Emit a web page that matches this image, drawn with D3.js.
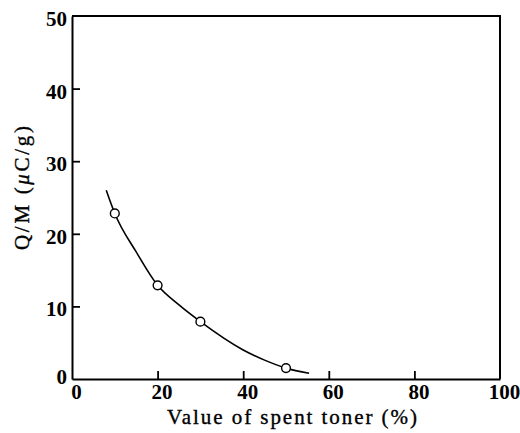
<!DOCTYPE html>
<html>
<head>
<meta charset="utf-8">
<script src="https://cdn.jsdelivr.net/npm/d3@7"></script>
<style>
  html, body { margin: 0; padding: 0; background: #fff; }
  svg { display: block; }
  text { font-family: "Liberation Serif", "DejaVu Serif", serif; fill: #000; }
</style>
</head>
<body>
<svg id="chart" width="520" height="433"></svg>
<script>
// Measured samples of charge-to-mass ratio versus spent toner content
const spentPct = [10, 20, 30, 50];
const chargeQM = [22.8, 12.9, 7.9, 1.5];

// Fitted trend line traced across the measured range
const fitPct = [8, 10, 15, 20, 25, 30, 40, 45, 50, 55.4];
const fitQM  = [26.0, 22.8, 17.5, 12.9, 10.2, 7.9, 4.0, 2.6, 1.5, 0.8];

// Axis ticks
const xTicks = [0, 20, 40, 60, 80, 100];
const yTicks = [0, 10, 20, 30, 40, 50];

const xTitle = "Value of spent toner (%)";

const svg = d3.select("#chart");
const plotL = 72, plotR = 500, plotT = 16, plotB = 379;

const x = d3.scaleLinear().domain([0, 100]).range([plotL, plotR]);
const y = d3.scaleLinear().domain([0, 50]).range([plotB, plotT]);

// Frame: top and right edges
svg.append("path")
  .attr("d", `M${plotL},${plotT}H${plotR}V${plotB}`)
  .attr("fill", "none").attr("stroke", "#000").attr("stroke-width", 2);

// Bottom axis with inward ticks
const xAxis = svg.append("g").attr("transform", `translate(0,${plotB})`)
  .call(d3.axisBottom(x).tickValues(xTicks).tickSizeInner(-8).tickSizeOuter(0).tickFormat(d3.format("d")));
xAxis.select(".domain").attr("stroke-width", 2);
xAxis.selectAll(".tick line").attr("stroke-width", 1.8)
  .filter(d => d === 0 || d === 100).remove();
xAxis.selectAll(".tick text")
  .attr("y", 5).attr("dx", 4).attr("dy", "0.71em")
  .attr("font-size", 21).attr("font-weight", "bold");

// Left axis with inward ticks
const yAxis = svg.append("g").attr("transform", `translate(${plotL},0)`)
  .call(d3.axisLeft(y).tickValues(yTicks).tickSizeInner(-8).tickSizeOuter(0).tickFormat(d3.format("d")));
yAxis.select(".domain").attr("stroke-width", 2);
yAxis.selectAll(".tick line").attr("stroke-width", 1.8)
  .filter(d => d === 0 || d === 50).remove();
yAxis.selectAll(".tick text")
  .attr("x", -5).attr("dy", "0.45em")
  .attr("font-size", 21).attr("font-weight", "bold");
yAxis.selectAll(".tick text").filter(d => d === 0).attr("x", -5).attr("dy", "0.22em");

// Axis titles
svg.append("text")
  .attr("x", 292).attr("y", 424)
  .attr("text-anchor", "middle").attr("font-size", 21)
  .attr("stroke", "#000").attr("stroke-width", 0.35)
  .attr("textLength", 250).attr("lengthAdjust", "spacing")
  .text(xTitle);

const yTitle = svg.append("text")
  .attr("transform", "translate(29,188) rotate(-90)")
  .attr("text-anchor", "middle").attr("font-size", 21)
  .attr("stroke", "#000").attr("stroke-width", 0.35)
  .attr("textLength", 124).attr("lengthAdjust", "spacing");
yTitle.append("tspan").text("Q/M (");
yTitle.append("tspan").attr("font-style", "italic").text("\u03bc");
yTitle.append("tspan").text("C/g)");

// Trend curve
const line = d3.line()
  .x((d, i) => x(fitPct[i]))
  .y((d, i) => y(fitQM[i]))
  .curve(d3.curveMonotoneX);
svg.append("path")
  .datum(fitPct)
  .attr("d", line)
  .attr("fill", "none").attr("stroke", "#000").attr("stroke-width", 1.6);

// Measured points as open circles
svg.append("g").selectAll("circle")
  .data(spentPct)
  .join("circle")
  .attr("cx", d => x(d))
  .attr("cy", (d, i) => y(chargeQM[i]))
  .attr("r", 4.4)
  .attr("fill", "#fff").attr("stroke", "#000").attr("stroke-width", 1.4);
</script>
</body>
</html>
